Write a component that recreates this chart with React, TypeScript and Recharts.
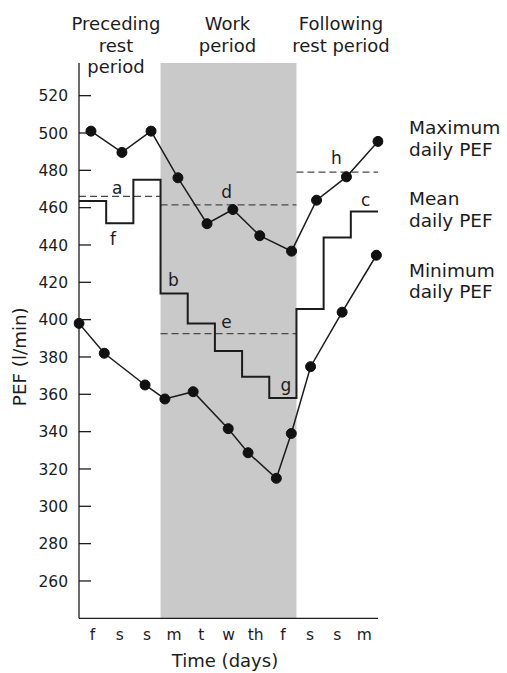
import React from 'react';
import {
  ComposedChart,
  Line,
  Scatter,
  XAxis,
  YAxis,
  ReferenceArea,
  ReferenceLine,
} from 'recharts';

// ---- data ----
const dayLabels = ['f', 's', 's', 'm', 't', 'w', 'th', 'f', 's', 's', 'm'];
const dayIndex = [0, 1, 2, 3, 4, 5, 6, 7, 8, 9, 10];

// maximum daily PEF (time position in days, value)
const maxTimes = [-0.06, 1.08, 2.15, 3.14, 4.21, 5.16, 6.15, 7.32, 8.24, 9.34, 10.5];
const maxValues = [501, 489.6, 501, 476, 451.4, 459, 445, 436.7, 464, 476.5, 495.5];

// minimum daily PEF
const minTimes = [-0.5, 0.43, 1.93, 2.66, 3.7, 4.99, 5.72, 6.76, 7.31, 8.02, 9.18, 10.44];
const minValues = [398, 382, 365, 357.5, 361.4, 341.6, 328.7, 315, 339, 374.8, 404, 434.5];

// mean daily PEF (one value per day)
const meanValues = [463.6, 451.6, 475, 414, 398, 383.2, 369.4, 358, 405.7, 444, 458];

// period means (dashed lines): [from, to, value]
const periodMeans: [number, number, number][] = [
  [-0.5, 2.5, 466],
  [2.5, 7.5, 461.5],
  [2.5, 7.5, 392.5],
  [7.5, 10.5, 479],
];

// work period (shaded)
const workStart = 2.5;
const workEnd = 7.5;

const yTicks = [260, 280, 300, 320, 340, 360, 380, 400, 420, 440, 460, 480, 500, 520];

// annotation letters
const letterText = ['a', 'f', 'b', 'd', 'e', 'g', 'h', 'c'];
const letterX = [0.91, 0.75, 2.97, 4.93, 4.93, 7.11, 8.97, 10.05];
const letterY = [470.5, 443.3, 421.4, 468.7, 398.7, 365, 486.6, 464.2];

// ---- tables built for the library ----
const maxData = maxTimes.map((x, i) => ({ x, y: maxValues[i] }));
const minData = minTimes.map((x, i) => ({ x, y: minValues[i] }));
const stepData = [
  ...meanValues.map((y, i) => ({ x: dayIndex[i] - 0.5, y })),
  { x: dayIndex[dayIndex.length - 1] + 0.5, y: meanValues[meanValues.length - 1] },
];
const letterData = letterText.map((t, i) => ({ t, x: letterX[i], y: letterY[i] }));

const FONT = "'DejaVu Sans', sans-serif";
const INK = '#1c1c1c';

const YTick = (props: any) => {
  const { x, y, payload } = props;
  const axisX = x + 11;
  return (
    <g>
      <line x1={axisX} x2={axisX + 12} y1={y} y2={y} stroke={INK} strokeWidth={1.3} />
      <text
        x={x}
        y={y}
        dy="0.36em"
        textAnchor="end"
        fontSize={15.5}
        fontFamily={FONT}
        fill={INK}
      >
        {payload.value}
      </text>
    </g>
  );
};

const LetterShape = (props: any) => {
  const { cx, cy, payload } = props;
  return (
    <text
      x={cx}
      y={cy}
      dy="0.36em"
      textAnchor="middle"
      fontSize={17}
      fontFamily={FONT}
      fill={INK}
    >
      {payload.t}
    </text>
  );
};

export default function App() {
  const textStyle = { fontFamily: FONT, fill: INK } as any;
  return (
    <div style={{ position: 'absolute', left: 0, top: 0, width: 507, height: 673, background: '#fff' }}>
      <ComposedChart
        width={507}
        height={673}
        margin={{ top: 63, right: 129, bottom: 0, left: 0 }}
        style={{ fontFamily: FONT }}
      >
        <XAxis
          type="number"
          dataKey="x"
          domain={[-0.5, 10.5]}
          ticks={dayIndex}
          interval={0}
          tickFormatter={(v: number) => dayLabels[v] ?? ''}
          tickLine={false}
          tickSize={0}
          tickMargin={10.7}
          height={54.7}
          axisLine={{ stroke: INK, strokeWidth: 1.3 }}
          tick={{ fontSize: 15.5, fill: INK, fontFamily: FONT }}
          allowDataOverflow
        />
        <YAxis
          type="number"
          dataKey="y"
          domain={[240, 537.5]}
          ticks={yTicks}
          interval={0}
          width={79}
          tickLine={false}
          tickSize={0}
          tickMargin={11}
          axisLine={{ stroke: INK, strokeWidth: 1.3 }}
          tick={<YTick />}
          allowDataOverflow
        />
        <ReferenceArea
          x1={workStart}
          x2={workEnd}
          y1={240}
          y2={537.5}
          fill="#c9c9c9"
          fillOpacity={1}
          stroke="none"
        />
        {periodMeans.map(([a, b, v], i) => (
          <ReferenceLine
            key={i}
            segment={[
              { x: a, y: v },
              { x: b, y: v },
            ]}
            stroke="#4a4a4a"
            strokeWidth={1.2}
            strokeDasharray="7 4"
          />
        ))}
        <Line
          data={stepData}
          dataKey="y"
          type="stepAfter"
          stroke={INK}
          strokeWidth={2}
          dot={false}
          isAnimationActive={false}
        />
        <Line
          data={maxData}
          dataKey="y"
          type="linear"
          stroke={INK}
          strokeWidth={1.5}
          dot={{ r: 5, fill: '#111', stroke: '#111', strokeWidth: 1, clipDot: false } as any}
          isAnimationActive={false}
        />
        <Line
          data={minData}
          dataKey="y"
          type="linear"
          stroke={INK}
          strokeWidth={1.5}
          dot={{ r: 5, fill: '#111', stroke: '#111', strokeWidth: 1, clipDot: false } as any}
          isAnimationActive={false}
        />
        <Scatter
          data={letterData}
          dataKey="y"
          shape={<LetterShape />}
          isAnimationActive={false}
        />
      </ComposedChart>
      <svg
        width={507}
        height={673}
        style={{ position: 'absolute', left: 0, top: 0, pointerEvents: 'none' }}
      >
        <g style={textStyle} fontSize={18} textAnchor="middle">
          <text x={116} y={30}>Preceding</text>
          <text x={116} y={51.5}>rest</text>
          <text x={116} y={73}>period</text>
          <text x={227.5} y={30}>Work</text>
          <text x={227.5} y={51.5}>period</text>
          <text x={341} y={30}>Following</text>
          <text x={341} y={51.5}>rest period</text>
        </g>
        <g style={textStyle} fontSize={18.5} textAnchor="start">
          <text x={409} y={134}>Maximum</text>
          <text x={409} y={155.5}>daily PEF</text>
          <text x={409} y={205}>Mean</text>
          <text x={409} y={226.5}>daily PEF</text>
          <text x={409} y={276.5}>Minimum</text>
          <text x={409} y={298}>daily PEF</text>
        </g>
        <text style={textStyle} fontSize={18} textAnchor="middle" x={225} y={666.5}>
          Time (days)
        </text>
        <text
          style={textStyle}
          fontSize={18.3}
          textAnchor="middle"
          x={26}
          y={356.7}
          transform="rotate(-90 26 356.7)"
        >
          PEF (l/min)
        </text>
      </svg>
    </div>
  );
}
